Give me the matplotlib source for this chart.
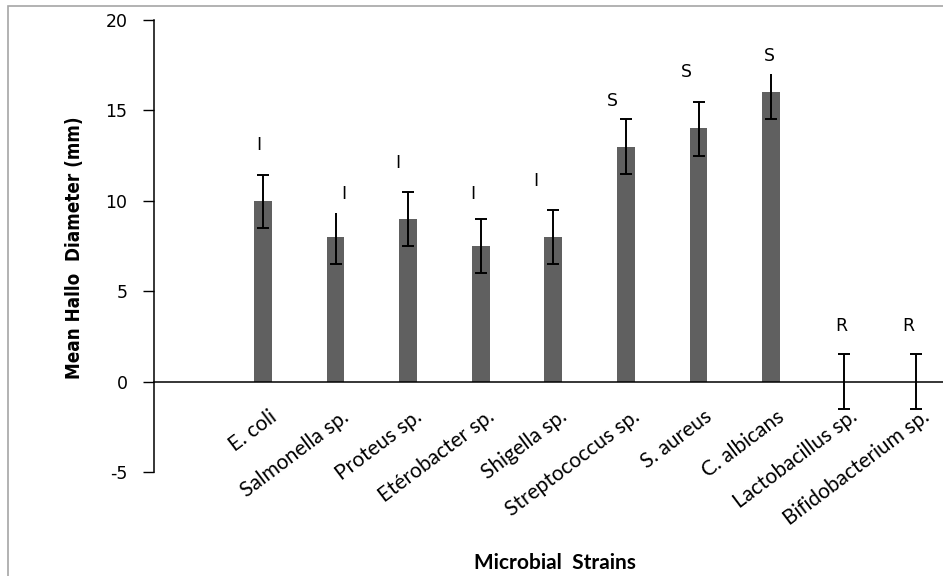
import numpy as np
import matplotlib.pyplot as plt
import matplotlib.transforms as mtransforms
from matplotlib.patches import Rectangle

# data
strains = ['E. coli', 'Salmonella sp.', 'Proteus sp.', 'Etérobacter sp.', 'Shigella sp.',
           'Streptococcus sp.', 'S. aureus', 'C. albicans', 'Lactobacillus sp.',
           'Bifidobacterium sp.']
mean_diam = [10, 8, 9, 7.5, 8, 13, 14, 16, 0, 0]
err_low = [1.5, 1.5, 1.5, 1.5, 1.5, 1.5, 1.5, 1.5, 1.5, 1.5]
err_high = [1.4, 1.3, 1.5, 1.5, 1.5, 1.5, 1.45, 1.0, 1.5, 1.5]
top_cap = [True, False, True, True, True, True, True, False, True, True]
sensitivity = ['I', 'I', 'I', 'I', 'I', 'S', 'S', 'S', 'R', 'R']

# where the letters sit (offset from bar centre, height in mm)
letter_dx = [-0.055, 0.11, -0.14, -0.11, -0.24, -0.19, -0.17, -0.02, -0.03, -0.11]
letter_y = [13.1, 10.4, 12.1, 10.4, 11.1, 15.5, 17.1, 18.0, 3.1, 3.1]

x = np.arange(len(strains))
mean_diam = np.array(mean_diam)
lo = mean_diam - np.array(err_low)
hi = mean_diam + np.array(err_high)
top_cap = np.array(top_cap)

plt.rcParams['axes.unicode_minus'] = False

fig = plt.figure(figsize=(9.43, 5.76), dpi=100)
fig.patches.append(Rectangle((0.009, -0.1), 1.2, 1.09, transform=fig.transFigure,
                             fill=False, edgecolor='#a6a6a6', linewidth=1.2))
ax = fig.add_axes([0.1633, 0.1806, 0.8367, 0.7847])

ax.bar(x, mean_diam, width=0.245, color='#606060', zorder=2)

# error bars, drawn by hand so some top caps can be left out
ax.vlines(x, lo, hi, color='black', linewidth=1.4, zorder=3)
ax.plot(x, lo, linestyle='none', marker='_', markersize=9, markeredgewidth=1.4,
        color='black', zorder=3)
ax.plot(x[top_cap], hi[top_cap], linestyle='none', marker='_', markersize=9,
        markeredgewidth=1.4, color='black', zorder=3)

for i, lab in enumerate(sensitivity):
    ax.text(x[i] + letter_dx[i], letter_y[i], lab, ha='center', va='center',
            fontsize=12.5, family='DejaVu Sans')

ax.set_xlim(-1.5, 9.366)
ax.set_ylim(-5, 20)
ax.set_yticks([-5, 0, 5, 10, 15, 20])
ax.tick_params(axis='y', direction='out', length=8, width=1, labelsize=12.5, pad=11)
ax.tick_params(axis='x', length=0, pad=18)

ax.spines['bottom'].set_position(('data', 0))
ax.spines['bottom'].set_linewidth(1.1)
ax.spines['left'].set_linewidth(1.1)
for side in ['top', 'right']:
    ax.spines[side].set_visible(False)

ax.set_xticks(x)
ax.set_xticklabels(strains, rotation=37, ha='right', rotation_mode='anchor',
                   fontsize=15, family='Lato')
shift = mtransforms.ScaledTranslation(5 / 100, 0, fig.dpi_scale_trans)
for t in ax.get_xticklabels():
    t.set_transform(t.get_transform() + shift)

ax.set_ylabel('Mean Hallo  Diameter (mm)', fontsize=13.5, fontweight='bold',
              family='DejaVu Sans', fontstretch='condensed')
ax.yaxis.set_label_coords(-0.089, 0.497)
fig.text(0.589, 0.023, 'Microbial  Strains', ha='center', va='center',
         fontsize=15, fontweight='bold', family='Lato')

fig.savefig('out.png', dpi=100)
